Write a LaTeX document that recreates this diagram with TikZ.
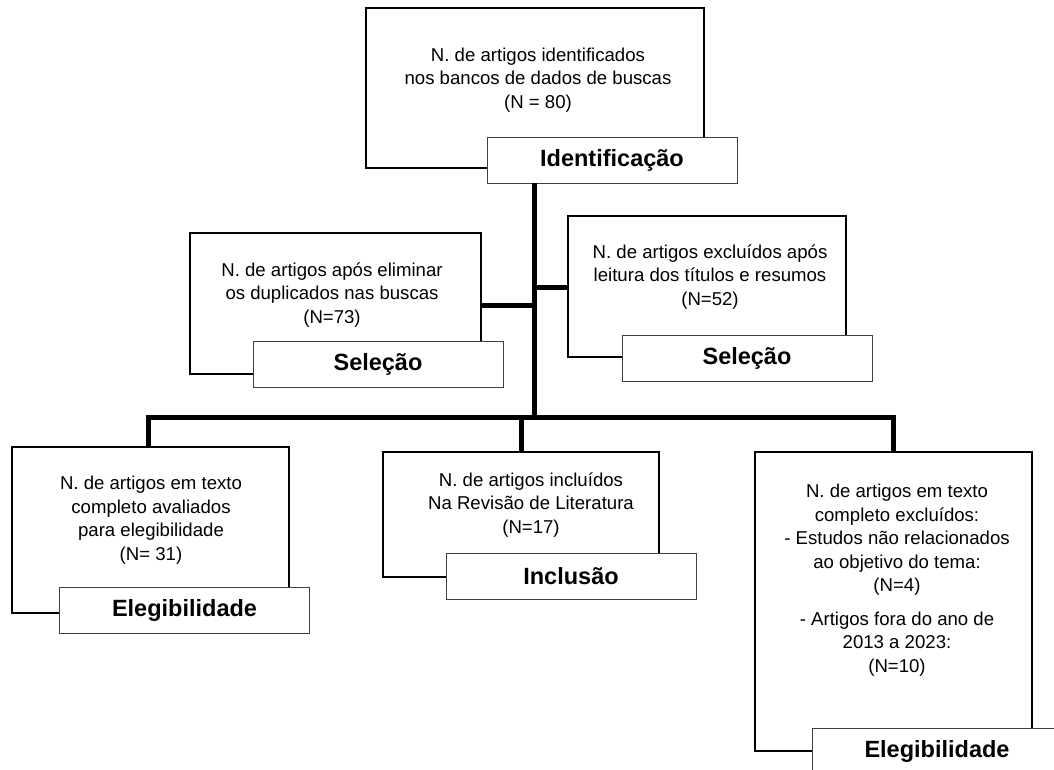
\documentclass[tikz,border=0pt]{standalone}
\usepackage{fontspec}
\setmainfont{Liberation Sans}
\begin{document}
\begin{tikzpicture}[x=1pt,y=1pt,
  body/.style={draw=black,line width=1.2pt,inner sep=0pt,outer sep=0pt,fill=white},
  lab/.style={draw=black!75,line width=0.9pt,fill=white,minimum width=250pt,minimum height=46pt,inner sep=0pt,outer sep=0pt,font=\fontsize{23.5}{28}\selectfont\bfseries},
  txt/.style={align=center,font=\fontsize{18.6}{23.5}\selectfont,inner sep=0pt},
  link/.style={line width=5pt,line join=miter}]
\useasboundingbox (0,0) rectangle (1054,-769);
\clip (0,0) rectangle (1054,-769);
% bodies
\node[body,minimum width=338pt,minimum height=160pt] (t) at (535,-88) {};
\node[body,minimum width=291pt,minimum height=141pt] (ml) at (335.5,-303.5) {};
\node[body,minimum width=278pt,minimum height=141pt] (mr) at (707,-286.5) {};
\node[body,minimum width=277pt,minimum height=166pt] (lb) at (150.5,-530) {};
\node[body,minimum width=276pt,minimum height=125pt] (mb) at (521,-514.5) {};
\node[body,minimum width=277pt,minimum height=299pt] (rb) at (893.5,-601.5) {};
% texts
\node[txt] (tt) at (538,-80) {N. de artigos identificados\\nos bancos de dados de buscas\\(N = 80)};
\node[txt] (mlt) at (332,-295) {N. de artigos após eliminar\\os duplicados nas buscas\\(N=73)};
\node[txt] (mrt) at (710,-277) {N. de artigos excluídos após\\leitura dos títulos e resumos\\(N=52)};
\node[txt] (lbt) at (151,-520) {N. de artigos em texto\\completo avaliados\\para elegibilidade\\(N= 31)};
\node[txt] (mbt) at (531,-505) {N. de artigos incluídos\\Na Revisão de Literatura\\(N=17)};
\node[txt] (rbt) at (897,-580) {N. de artigos em texto\\completo excluídos:\\- Estudos não relacionados\\ao objetivo do tema:\\(N=4)\\[10pt]- Artigos fora do ano de\\2013 a 2023:\\(N=10)};
% labels
\node[lab] (idl) at (612,-160) {Identificação};
\node[lab] (sl) at (378,-364) {Seleção};
\node[lab] (sr) at (747,-358) {Seleção};
\node[lab] (el) at (184.5,-610) {Elegibilidade};
\node[lab] (inl) at (571,-576) {Inclusão};
\node[lab] (er) at (937,-751) {Elegibilidade};
% connectors
\coordinate (jl) at (534,-305);
\coordinate (jr) at (534,-287);
\coordinate (hub) at (534,-417);
\coordinate (dl) at (148,-417);
\coordinate (dm) at (521,-417);
\coordinate (dr) at (893,-417);
\draw[link] (idl.south -| hub) -- (hub);
\draw[link] (ml.east |- jl) -- (jl);
\draw[link] (jr) -- (mr.west |- jr);
\draw[link] (lb.north -| dl) -- (dl) -- (dr) -- (rb.north -| dr);
\draw[link] (dm) -- (mb.north -| dm);
\end{tikzpicture}
\end{document}
